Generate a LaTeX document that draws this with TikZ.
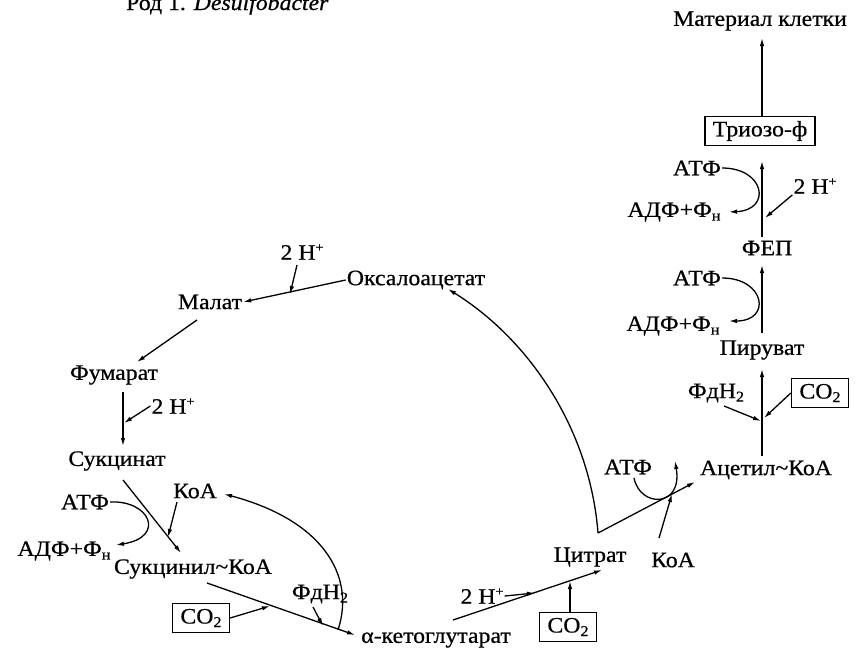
\documentclass[tikz,border=0pt]{standalone}
\usepackage{fontspec}
\setmainfont{Liberation Serif}[FakeStretch=1.08, FakeBold=0.6]
\usetikzlibrary{arrows.meta,calc}
\newcommand\lsub[1]{\raisebox{-0.35ex}{\fontsize{15}{15}\selectfont #1}}
\newcommand\lsup[1]{\raisebox{0.8ex}{\fontsize{13}{13}\selectfont #1}}
\begin{document}
\begin{tikzpicture}[x=1pt,y=-1pt,
  lbl/.style={inner sep=1pt, font=\fontsize{22}{26}\selectfont},
  boxed/.style={lbl, draw, line width=1.4pt, inner sep=3pt, minimum height=29pt},
  arr/.style={line width=1.3pt, -{Latex[length=8pt,width=4.5pt]}},
  ln/.style={line width=1.3pt}
]
\useasboundingbox (0,0) rectangle (866,653);

% header (cut at top edge, as in the reference)
\node[lbl, anchor=base west] (hdr) at (125,10) {Род 1. \textit{Desulfobacter}};

% right column
\node[lbl] (mat) at (760,21) {Материал клетки};
\node[boxed, minimum width=110pt] (trio) at (760,131) {Триозо-ф};
\node[lbl] (atp1) at (697,168) {АТФ};
\node[lbl] (adp1) at (674,212) {АДФ+Ф\lsub{н}};
\node[lbl] (h1) at (815,186) {2 H\lsup{+}};
\node[lbl] (fep) at (767,248) {ФЕП};
\node[lbl] (atp2) at (697,278) {АТФ};
\node[lbl] (adp2) at (673,326) {АДФ+Ф\lsub{н}};
\node[lbl] (pyr) at (762,350) {Пируват};
\node[lbl] (fd1) at (716,393) {ФдН\lsub{2}};
\node[boxed, minimum width=57pt] (co2a) at (820,393) {CO\lsub{2}};
\node[lbl] (acet) at (766,470) {Ацетил\textasciitilde КоА};
\node[lbl] (atp3) at (628,467) {АТФ};
\node[lbl] (koa3) at (673,560) {КоА};
\node[lbl] (cit) at (590,557) {Цитрат};

% cycle, left part
\node[lbl] (oxa) at (416,280) {Оксалоацетат};
\node[lbl] (h2) at (302,252) {2 H\lsup{+}};
\node[lbl] (malat) at (210,302) {Малат};
\node[lbl] (fum) at (114,375) {Фумарат};
\node[lbl] (h3) at (173,406) {2 H\lsup{+}};
\node[lbl] (succ) at (117,461) {Сукцинат};
\node[lbl] (atp4) at (85,502) {АТФ};
\node[lbl] (adp4) at (64,551) {АДФ+Ф\lsub{н}};
\node[lbl] (koa4) at (195,491) {КоА};
\node[lbl] (sucoa) at (193,569) {Сукцинил\textasciitilde КоА};
\node[lbl] (fd2) at (320,594) {ФдН\lsub{2}};
\node[boxed, minimum width=57pt] (co2b) at (201,618) {CO\lsub{2}};
\node[lbl] (akg) at (436,640) {α-кетоглутарат};
\node[lbl] (h4) at (482,596) {2 H\lsup{+}};
\node[boxed, minimum width=57pt] (co2c) at (568,627) {CO\lsub{2}};

% junction coordinates
\coordinate (r0) at (762,38);
\coordinate (r1) at (762,161);
\coordinate (r1b) at (762,237);
\coordinate (r2) at (765,218);
\coordinate (r3) at (762,265);
\coordinate (r3b) at (762,333);
\coordinate (r4) at (762,369);
\coordinate (r4b) at (762,456);
\coordinate (j1) at (761,421);
\coordinate (j2) at (764,418);
\coordinate (f1s) at (724,406);
\coordinate (a1e) at (729,212);
\coordinate (a2e) at (729,321);
\coordinate (cits) at (598,533);
\coordinate (acett) at (695,482);
\coordinate (a3s) at (634,478);
\coordinate (a3e) at (675,461);
\coordinate (k3s) at (659,538);
\coordinate (k3t) at (672,494);
\coordinate (oxat) at (448,289);
\coordinate (akgs) at (453,620);
\coordinate (citt) at (602,570);
\coordinate (h4t) at (535,593);
\coordinate (c2t) at (570,581);
\coordinate (h2s) at (297,265);
\coordinate (h2t) at (290,294);
\coordinate (mals) at (197,320);
\coordinate (fumt) at (137,362);
\coordinate (fums) at (123,392);
\coordinate (succt) at (123,446);
\coordinate (h3t) at (124,423);
\coordinate (succs) at (123,480);
\coordinate (sucoat) at (181,553);
\coordinate (a4e) at (116,545);
\coordinate (k4s) at (177,502);
\coordinate (k4t) at (168,537);
\coordinate (kcs) at (338,630);
\coordinate (kct) at (224,494);
\coordinate (sucs) at (207,583);
\coordinate (akgt) at (355,635);
\coordinate (f2s) at (313,607);
\coordinate (f2t) at (323,626);
\coordinate (c1t) at (270,606);

% right column connectors
\draw[arr] (trio.north -| r0) -- (r0);
\draw[arr] (r1b) -- (r1);
\draw[arr] (atp1.east) .. controls (765,168) and (772,210) .. (a1e);
\draw[arr] (h1.south west) -- (r2);
\draw[arr] (r3b) -- (r3);
\draw[arr] (atp2.east) .. controls (765,278) and (772,321) .. (a2e);
\draw[arr] (r4b) -- (r4);
\draw[arr] (f1s) -- (j1);
\draw[arr] (co2a.west) -- (j2);

% citrate region
\draw[arr] (cits) -- (acett);
\draw[arr] (a3s) .. controls (640,508) and (683,508) .. (a3e);
\draw[arr] (k3s) -- (k3t);
\draw[arr] (cits) .. controls (590,430) and (530,340) .. (oxat);
\draw[arr] (akgs) -- (citt);
\draw[arr] (h4.east) -- (h4t);
\draw[arr] (co2c.north -| c2t) -- (c2t);

% left part connectors
\draw[arr] (oxa.west) -- (malat.east);
\draw[arr] (h2s) -- (h2t);
\draw[arr] (mals) -- (fumt);
\draw[arr] (fums) -- (succt);
\draw[arr] (h3.west) -- (h3t);
\draw[arr] (succs) -- (sucoat);
\draw[arr] (atp4.east) .. controls (150,500) and (166,537) .. (a4e);
\draw[arr] (k4s) -- (k4t);
\draw[arr] (kcs) .. controls (356,575) and (322,520) .. (kct);
\draw[arr] (sucs) -- (akgt);
\draw[arr] (f2s) -- (f2t);
\draw[arr] (co2b.east) -- (c1t);
\end{tikzpicture}
\end{document}
